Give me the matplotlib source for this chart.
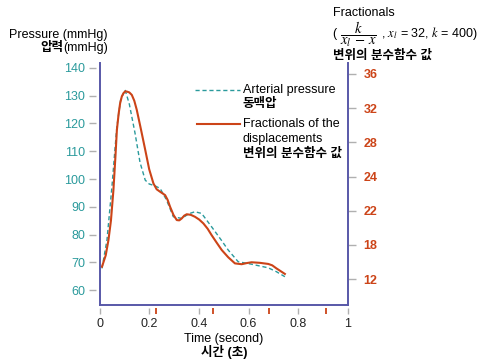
import numpy as np
import matplotlib
matplotlib.use("Agg")
import matplotlib.pyplot as plt
from matplotlib.lines import Line2D

plt.rcParams['font.family'] = ['Liberation Sans', 'Noto Sans CJK KR', 'DejaVu Sans']
plt.rcParams['mathtext.fontset'] = 'stix'

# --- data (time in s, values in mmHg-equivalent) ---
t_pressure = [0.01, 0.03, 0.05, 0.063, 0.07, 0.085, 0.103, 0.12, 0.143, 0.163, 0.184,
              0.2, 0.222, 0.244, 0.27, 0.297, 0.331, 0.36, 0.384, 0.411, 0.451,
              0.49, 0.518, 0.558, 0.612, 0.679, 0.712, 0.746]
pressure = [67.8, 78.0, 97.2, 111.6, 118.9, 128.5, 132.1, 127.0, 116.5, 106.0, 99.6,
            98.2, 97.6, 96.6, 92.4, 86.4, 85.8, 87.5, 88.2, 87.6, 82.8,
            78.0, 74.4, 70.2, 69.3, 68.0, 66.6, 64.8]

t_fraction = [0.01, 0.025, 0.036, 0.046, 0.056, 0.064, 0.07, 0.077, 0.083, 0.09, 0.097,
              0.104, 0.11, 0.12, 0.13, 0.14, 0.15, 0.167, 0.184, 0.2, 0.217,
              0.23, 0.244, 0.264, 0.274, 0.284, 0.298, 0.311, 0.321, 0.331, 0.341,
              0.351, 0.367, 0.384, 0.401, 0.418, 0.435, 0.451, 0.472,
              0.492, 0.518, 0.545, 0.572, 0.592, 0.612, 0.645, 0.679, 0.695, 0.712, 0.746]
fraction = [68.4, 72.5, 78.0, 85.0, 96.0, 108.0, 117.7, 123.5, 127.3, 129.8, 131.0,
            131.6, 131.5, 131.2, 130.3, 128.2, 124.9, 117.8, 110.5, 103.5, 98.4,
            96.3, 95.4, 94.2, 92.5, 90.0, 87.0, 85.2, 85.1, 85.8, 86.8,
            87.3, 87.1, 86.4, 85.4, 84.0, 82.1, 79.8, 77.0,
            74.4, 71.8, 69.6, 69.3, 69.7, 70.0, 69.8, 69.4, 68.9, 67.8, 65.8]

left_ticks = [60, 70, 80, 90, 100, 110, 120, 130, 140]
right_labels = ['12', '18', '22', '24', '28', '32', '36']
x_ticks = [0, 0.2, 0.4, 0.6, 0.8, 1]
x_labels = ['0', '0.2', '0.4', '0.6', '0.8', '1']
red_ticks = [0.228, 0.456, 0.683, 0.911]

teal = '#2a9a9c'
red = '#cc4418'
spine_c = '#5858a8'
tick_c = '#b0b0b0'

fig = plt.figure(figsize=(4.88, 3.61), dpi=100)
ax = fig.add_axes([0.2039, 0.1551, 0.5092, 0.6704])
ax.set_xlim(0, 1)
ax.set_ylim(54.6, 141.8)

# curves
ax.plot(t_pressure, pressure, color=teal, lw=1.0, ls=(0, (3, 2)))
ax.plot(t_fraction, fraction, color=red, lw=1.5, solid_joinstyle='round')

# spines: ticks sit a little away from the spine line
ax.spines['top'].set_visible(False)
ax.spines['right'].set_visible(False)
for s in ['left', 'bottom']:
    ax.spines[s].set_position(('outward', 2.5))
    ax.spines[s].set_visible(False)
ax.axvline(0, color=spine_c, lw=1.4, clip_on=False)
ax.axhline(54.6, color=spine_c, lw=1.4, clip_on=False)

ax.set_yticks(left_ticks)
ax.set_yticklabels([str(v) for v in left_ticks])
ax.tick_params(axis='y', direction='out', length=5, color=tick_c, width=1,
               labelcolor=teal, labelsize=9, pad=3)
ax.set_xticks(x_ticks)
ax.set_xticklabels(x_labels)
ax.set_xticks(red_ticks, minor=True)
ax.tick_params(axis='x', which='major', direction='out', length=4, color=tick_c,
               width=1, labelcolor='#222222', labelsize=9, pad=3)
ax.tick_params(axis='x', which='minor', direction='out', length=4, color=red, width=1.3)

# right axis
ax2 = ax.twinx()
ax2.set_ylim(ax.get_ylim())
for s in ['left', 'top', 'bottom']:
    ax2.spines[s].set_visible(False)
ax2.spines['right'].set_color(spine_c)
ax2.spines['right'].set_linewidth(1.4)
ax2.set_yticks(np.linspace(63.96, 137.84, len(right_labels)))
ax2.set_yticklabels(right_labels, fontweight='bold')
ax2.tick_params(axis='y', direction='out', length=6, color=tick_c, width=1,
                labelcolor=red, labelsize=9, pad=5)

# axis titles
fig.text(0.221, 0.903, 'Pressure (mmHg)', ha='right', va='center', fontsize=9)
fig.text(0.130, 0.866, '압력', ha='right', va='center', fontsize=9, fontweight='bold')
fig.text(0.221, 0.866, '(mmHg)', ha='right', va='center', fontsize=9)
fig.text(0.682, 0.964, 'Fractionals', ha='left', va='center', fontsize=9)
fig.text(0.680, 0.906, '(', ha='left', va='center', fontsize=9)
fig.text(0.697, 0.906, r'$\dfrac{k}{x_l\,-\,x}$', ha='left', va='center', fontsize=10.5)
fig.text(0.780, 0.906, r', $x_l$ = 32, $k$ = 400)', ha='left', va='center', fontsize=9)
fig.text(0.682, 0.845, '변위의 분수함수 값', ha='left', va='center', fontsize=9,
         fontweight='bold')
fig.text(0.459, 0.061, 'Time (second)', ha='center', va='center', fontsize=9)
fig.text(0.459, 0.025, '시간 (초)', ha='center', va='center', fontsize=9, fontweight='bold')

# legend drawn by hand (mixed regular / bold lines)
ax.add_line(Line2D([0.384, 0.565], [0.888, 0.888], transform=ax.transAxes,
                   color=teal, lw=1.0, ls=(0, (3, 2))))
ax.add_line(Line2D([0.392, 0.565], [0.748, 0.748], transform=ax.transAxes,
                   color=red, lw=1.5))
ax.text(0.577, 0.888, 'Arterial pressure', transform=ax.transAxes, va='center', fontsize=9)
ax.text(0.577, 0.831, '동맥압', transform=ax.transAxes, va='center', fontsize=9,
        fontweight='bold')
ax.text(0.577, 0.748, 'Fractionals of the', transform=ax.transAxes, va='center', fontsize=9)
ax.text(0.577, 0.686, 'displacements', transform=ax.transAxes, va='center', fontsize=9)
ax.text(0.577, 0.624, '변위의 분수함수 값', transform=ax.transAxes, va='center', fontsize=9,
        fontweight='bold')

fig.savefig('out.png', dpi=100)
